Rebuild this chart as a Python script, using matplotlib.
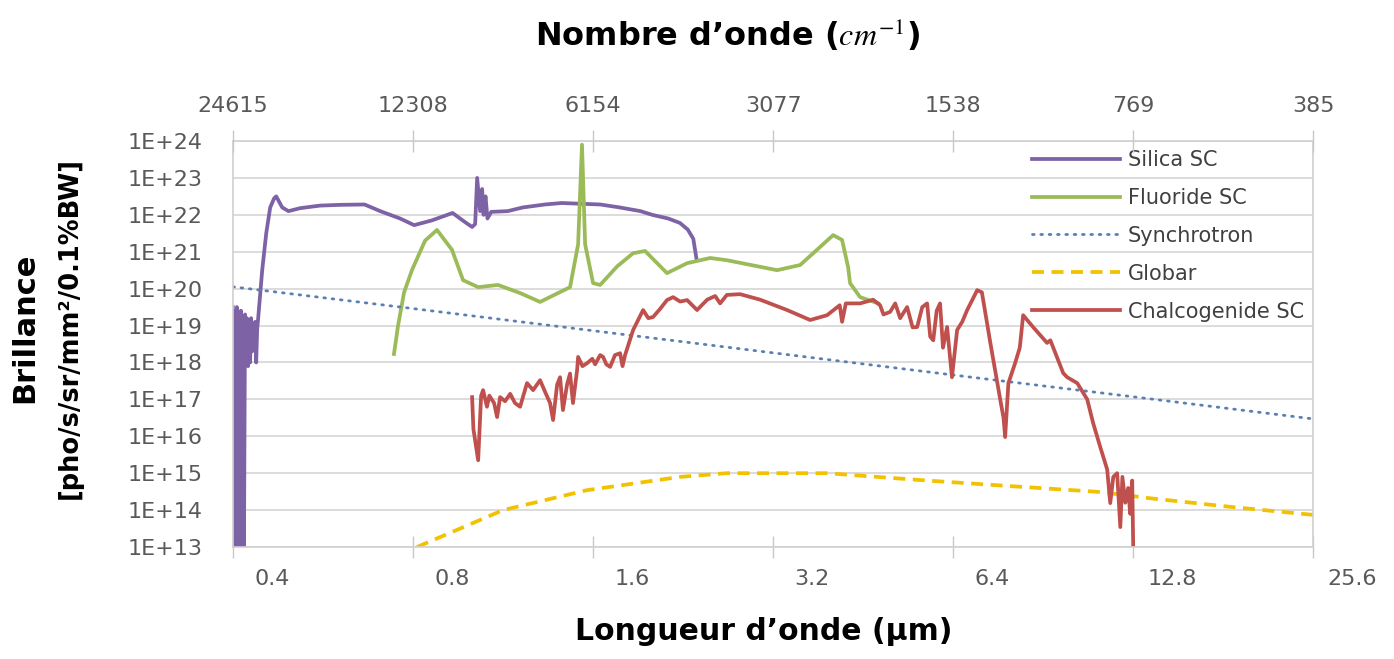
import numpy as np
import matplotlib
matplotlib.use("Agg")
import matplotlib.pyplot as plt
import matplotlib.transforms as mtransforms
from matplotlib.ticker import NullLocator

plt.rcParams['font.family'] = ['DejaVu Sans']
plt.rcParams['mathtext.fontset'] = 'stix'

# axis ticks
wavenumber_ticks = [24615, 12308, 6154, 3077, 1538, 769, 385]
wavelength_labels = ['0.4', '0.8', '1.6', '3.2', '6.4', '12.8', '25.6']
decades = list(range(13, 25))

# Silica SC  (wavelength um, log10 brilliance)
silica_wl = [0.406, 0.4076, 0.4092, 0.4108, 0.4124, 0.414, 0.4157, 0.4173, 0.4189, 0.4205,
             0.4222, 0.4238, 0.4255, 0.4272, 0.4288, 0.4305, 0.4322, 0.4339, 0.4356, 0.4373,
             0.439, 0.4407, 0.4424, 0.4442, 0.4459, 0.4476, 0.4546, 0.4617, 0.4688, 0.4761,
             0.4798, 0.491, 0.503, 0.526, 0.568, 0.613, 0.674, 0.716, 0.773, 0.816,
             0.874, 0.946, 0.993, 1.02, 1.032, 1.04, 1.052, 1.06, 1.066, 1.074,
             1.082, 1.098, 1.17, 1.24, 1.35, 1.44, 1.546, 1.67, 1.80, 1.95,
             2.04, 2.17, 2.27, 2.34, 2.39, 2.42]
silica_log = [19.5, 13.0, 19.4, 13.0, 19.5, 13.0, 19.3, 13.0, 19.4, 13.0,
              19.2, 13.0, 19.3, 18.2, 19.2, 17.9, 19.1, 18.0, 19.2, 18.3,
              19.0, 18.5, 19.1, 18.0, 18.9, 19.2, 20.5, 21.5, 22.2, 22.45,
              22.5, 22.2, 22.1, 22.18, 22.25, 22.27, 22.28, 22.1, 21.9, 21.72,
              21.85, 22.05, 21.8, 21.67, 21.75, 23.0, 22.1, 22.7, 22.0, 22.5,
              21.9, 22.08, 22.1, 22.2, 22.28, 22.32, 22.3, 22.28, 22.2, 22.1,
              22.0, 21.9, 21.78, 21.6, 21.35, 20.8]

# Fluoride SC
fluoride_wl = [0.755, 0.767, 0.785, 0.809, 0.851, 0.891, 0.944, 0.985, 1.044, 1.127,
               1.227, 1.325, 1.487, 1.534, 1.557, 1.576, 1.625, 1.670, 1.782, 1.896,
               1.985, 2.160, 2.334, 2.551, 2.72, 3.30, 3.606, 3.895, 4.095, 4.238,
               4.338, 4.37, 4.542, 4.87]
fluoride_log = [18.23, 19.0, 19.9, 20.5, 21.3, 21.59, 21.05, 20.23, 20.04, 20.1,
                19.88, 19.64, 20.04, 21.2, 23.9, 21.2, 20.15, 20.1, 20.6, 20.96,
                21.02, 20.42, 20.69, 20.83, 20.77, 20.5, 20.64, 21.13, 21.45, 21.32,
                20.58, 20.15, 19.77, 19.6]

# Synchrotron
synchrotron_wl = [0.406, 0.8125, 1.625, 3.25, 6.5, 13.0, 26.0]
synchrotron_log = [20.05, 19.46, 18.86, 18.26, 17.66, 17.07, 16.47]

# Globar
globar_wl = [0.825, 0.974, 1.149, 1.588, 2.272, 2.72, 4.0, 5.88, 8.64, 11.45,
             13.88, 19.1, 26.0]
globar_log = [13.0, 13.5, 14.0, 14.54, 14.9, 15.0, 15.0, 14.8, 14.62, 14.49,
              14.32, 14.08, 13.87]

# Chalcogenide SC
chalco_wl = [1.020, 1.025, 1.044, 1.056, 1.064, 1.080, 1.09, 1.11, 1.123, 1.136,
             1.158, 1.181, 1.203, 1.227, 1.260, 1.290, 1.325, 1.351, 1.377, 1.393,
             1.415, 1.431, 1.447, 1.470, 1.487, 1.504, 1.528, 1.534, 1.56, 1.588,
             1.62, 1.638, 1.67, 1.689, 1.71, 1.735, 1.768, 1.803, 1.82, 1.838,
             1.896, 1.970, 2.01, 2.047, 2.103, 2.160, 2.211, 2.272, 2.334, 2.425,
             2.521, 2.6, 2.65, 2.72, 2.862, 3.092, 3.43, 3.748, 4.0, 4.2,
             4.238, 4.3, 4.542, 4.777, 4.906, 4.97, 5.099, 5.2, 5.30, 5.444,
             5.56, 5.659, 5.77, 5.88, 5.95, 6.02, 6.1, 6.18, 6.25, 6.35,
             6.47, 6.60, 6.73, 6.86, 7.0, 7.13, 7.26, 7.50, 7.79, 7.89,
             7.94, 8.04, 8.25, 8.4, 8.51, 8.84, 9.33, 9.45, 9.93, 10.08,
             10.48, 10.89, 11.14, 11.45, 11.76, 11.9, 12.04, 12.22, 12.37, 12.47,
             12.61, 12.75, 12.85, 12.95, 13.0]
chalco_log = [17.06, 16.2, 15.35, 17.1, 17.25, 16.8, 17.1, 16.9, 16.52, 17.06,
              16.95, 17.15, 16.9, 16.8, 17.44, 17.25, 17.52, 17.2, 16.9, 16.44,
              17.4, 17.6, 16.71, 17.4, 17.7, 16.9, 17.79, 18.15, 17.9, 17.98,
              18.1, 17.95, 18.2, 18.15, 17.95, 17.88, 18.2, 18.25, 17.9, 18.2,
              18.88, 19.42, 19.2, 19.23, 19.45, 19.69, 19.77, 19.65, 19.69, 19.42,
              19.7, 19.8, 19.6, 19.83, 19.85, 19.7, 19.42, 19.15, 19.28, 19.55,
              19.1, 19.6, 19.6, 19.7, 19.55, 19.3, 19.37, 19.6, 19.2, 19.5,
              18.95, 18.96, 19.5, 19.6, 18.7, 18.6, 19.4, 19.6, 18.4, 18.96,
              17.6, 18.88, 19.1, 19.42, 19.7, 19.96, 19.9, 18.53, 17.0, 16.5,
              15.98, 17.44, 17.98, 18.4, 19.28, 18.96, 18.53, 18.6, 17.71, 17.6,
              17.44, 17.0, 16.36, 15.71, 15.1, 14.19, 14.9, 15.0, 13.54, 14.9,
              14.2, 14.6, 13.9, 14.8, 13.0]

fig = plt.figure(figsize=(13.94, 6.59), dpi=100)
ax = fig.add_axes([233 / 1394, 1 - 547 / 659, 1080 / 1394, 406 / 659])

ax.plot(silica_wl, 10 ** np.array(silica_log), color='#7E62A6', lw=2.7, label='Silica SC')
ax.plot(fluoride_wl, 10 ** np.array(fluoride_log), color='#9BBB59', lw=2.7, label='Fluoride SC')
ax.plot(synchrotron_wl, 10 ** np.array(synchrotron_log), color='#5B7FB0', lw=2.0,
        linestyle=(0, (0.6, 2.4)), dash_capstyle='round', label='Synchrotron')
ax.plot(globar_wl, 10 ** np.array(globar_log), color='#F2C200', lw=2.7,
        linestyle=(0, (3.2, 2.0)), label='Globar')
ax.plot(chalco_wl, 10 ** np.array(chalco_log), color='#C0504D', lw=2.7, label='Chalcogenide SC')

ax.set_xscale('log', base=2)
ax.set_yscale('log')
xmin, xmax = 1e4 / wavenumber_ticks[0], 1e4 / wavenumber_ticks[-1]
ax.set_xlim(xmin, xmax)
ax.set_ylim(1e13, 1e24)

tick_pos = [1e4 / w for w in wavenumber_ticks]
ax.set_xticks(tick_pos, wavelength_labels)
ax.xaxis.set_minor_locator(NullLocator())
ax.set_yticks([10.0 ** d for d in decades], ['1E+%d' % d for d in decades])
ax.yaxis.set_minor_locator(NullLocator())
ax.grid(axis='y', color='#D9D9D9', lw=1.3)
ax.set_axisbelow(True)

for s in ax.spines.values():
    s.set_color('#D0D0D0')
    s.set_linewidth(1.2)

ax.tick_params(axis='x', direction='inout', length=16, width=1, color='#C8C8C8',
               labelcolor='#595959', labelsize=16, pad=8)
ax.tick_params(axis='y', length=0, labelcolor='#595959', labelsize=16, pad=22)

# bottom labels sit a bit right of their tick marks
shift = mtransforms.ScaledTranslation(0.39, 0, fig.dpi_scale_trans)
for lab in ax.get_xticklabels():
    lab.set_transform(lab.get_transform() + shift)

ax_top = ax.twiny()
ax_top.set_xscale('log', base=2)
ax_top.set_xlim(xmin, xmax)
ax_top.set_xticks(tick_pos, [str(w) for w in wavenumber_ticks])
ax_top.xaxis.set_minor_locator(NullLocator())
ax_top.tick_params(axis='x', direction='inout', length=16, width=1, color='#C8C8C8',
                   labelcolor='#595959', labelsize=16, pad=10)
for s in ax_top.spines.values():
    s.set_visible(False)

leg = ax.legend(loc='upper left', bbox_to_anchor=(0.740, 0.978), frameon=False,
                fontsize=15, handlelength=4.2, labelspacing=0.86, borderpad=0,
                borderaxespad=0, handletextpad=0.4)
for t in leg.get_texts():
    t.set_color('#404040')

fig.text(727 / 1394, 1 - 35 / 659, "Nombre d\u2019onde ($cm^{-1}$)", ha='center', va='center',
         fontsize=23, fontweight='bold')
fig.text(764 / 1394, 1 - 632 / 659, "Longueur d\u2019onde (\u00b5m)", ha='center', va='center',
         fontsize=21.5, fontweight='bold')
fig.text(25 / 1394, 1 - 328 / 659, "Brillance", rotation=90, ha='center', va='center',
         fontsize=22, fontweight='bold')
fig.text(70 / 1394, 1 - 328 / 659, "[pho/s/sr/mm\u00b2/0.1%BW]", rotation=90, ha='center',
         va='center', fontsize=18.5, fontweight='bold')

fig.savefig('out.png', dpi=100)
